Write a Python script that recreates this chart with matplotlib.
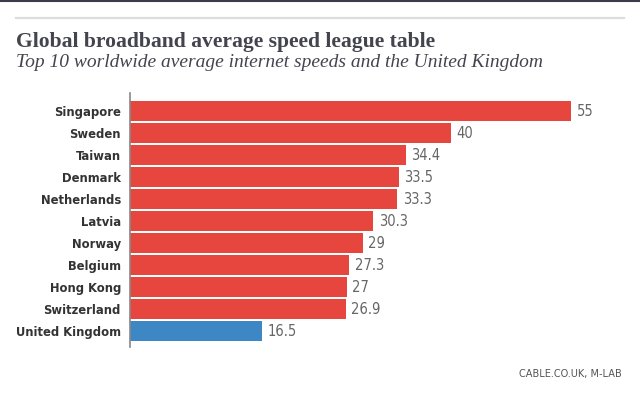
import matplotlib
matplotlib.use('Agg')
import matplotlib.pyplot as plt
from matplotlib import font_manager
from matplotlib.lines import Line2D

countries = ['Singapore', 'Sweden', 'Taiwan', 'Denmark', 'Netherlands', 'Latvia',
             'Norway', 'Belgium', 'Hong Kong', 'Switzerland', 'United Kingdom']
speeds = [55, 40, 34.4, 33.5, 33.3, 30.3, 29, 27.3, 27, 26.9, 16.5]
value_labels = ['55', '40', '34.4', '33.5', '33.3', '30.3', '29', '27.3', '27', '26.9', '16.5']

RED = '#e6463d'
BLUE = '#3c87c4'
TEXT = '#44444f'

# pick a condensed sans if one is around
names = {f.name for f in font_manager.fontManager.ttflist}
condensed = [f for f in font_manager.fontManager.ttflist
             if f.name == 'DejaVu Sans' and 'condensed' in str(f.stretch)]
if 'Liberation Sans Narrow' in names:
    LABEL_FONT = dict(family='Liberation Sans Narrow')
elif condensed:
    LABEL_FONT = dict(family='DejaVu Sans', stretch='condensed')
else:
    LABEL_FONT = dict(family='Roboto')

W, H = 640, 401
fig = plt.figure(figsize=(W / 100, H / 100), dpi=100)

# decorations at the top
fig.add_artist(Line2D([0, 1], [1 - 0.6 / H, 1 - 0.6 / H], color='#3b3b4a', lw=1.5))
fig.add_artist(Line2D([16 / W, 624 / W], [1 - 17.5 / H, 1 - 17.5 / H], color='#dcdcdc', lw=1.6))

fig.text(16 / W, 1 - 47 / H, 'Global broadband average speed league table',
         family='Liberation Serif', weight='bold', fontsize=15.6, color=TEXT, va='baseline')
fig.text(16 / W, 1 - 67 / H, 'Top 10 worldwide average internet speeds and the United Kingdom',
         family='Liberation Serif', style='italic', fontsize=14.0, color=TEXT, va='baseline')

ax = fig.add_axes([130 / W, (H - 347) / H, 500 / W, 254 / H])
colors = [RED] * (len(countries) - 1) + [BLUE]
pos = list(range(len(countries)))
ax.barh(pos, speeds, height=20 / 22, color=colors)
ax.set_xlim(0, 500 / 8.02)
ax.set_ylim(len(countries) - 1 + 16 / 22, -18 / 22)

for y, v, lab in zip(pos, speeds, value_labels):
    ax.text(v + 0.7, y, lab, va='center', ha='left', fontsize=10.5,
            color='#666666', **LABEL_FONT)

ax.set_yticks(pos)
ax.set_yticklabels(countries, weight='bold', fontsize=9.3, color='#333333', **LABEL_FONT)
ax.tick_params(axis='y', length=0, pad=6.5)
ax.set_xticks([])
for side in ['top', 'right', 'bottom']:
    ax.spines[side].set_visible(False)
ax.spines['left'].set_color('#888888')
ax.spines['left'].set_linewidth(1.2)

fig.text(622 / W, 1 - 377 / H, 'CABLE.CO.UK, M-LAB', ha='right', va='baseline',
         fontsize=7.8, color='#555555', **LABEL_FONT)

fig.savefig('out.png', dpi=100)
